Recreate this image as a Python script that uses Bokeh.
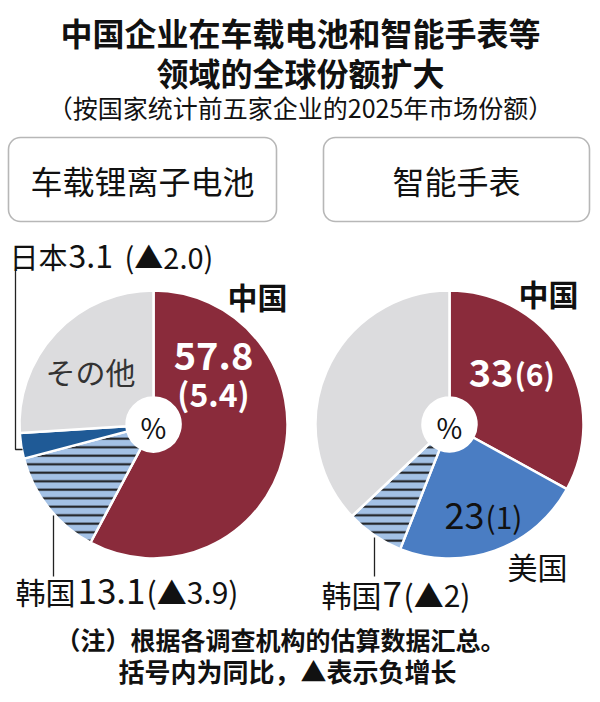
import numpy as np
from bokeh.plotting import figure
from bokeh.models import Range1d, ColumnDataSource, BoxAnnotation
from bokeh.core.properties import value
from bokeh.embed import file_html
from bokeh.resources import INLINE

# ---------------- data ----------------
title_lines = ["中国企业在车载电池和智能手表等", "领域的全球份额扩大"]
subtitle = "（按国家统计前五家企业的2025年市场份额）"
panel_titles = ["车载锂离子电池", "智能手表"]

battery_countries = ["中国", "韩国", "日本", "その他"]
battery_share = [57.8, 13.1, 3.1, 26.0]
battery_change = ["5.4", "▲3.9", "▲2.0", ""]

watch_countries = ["中国", "美国", "韩国", "其他"]
watch_share = [33, 23, 7, 37]
watch_change = ["6", "1", "▲2", ""]

notes = ["（注）根据各调查机构的估算数据汇总。", "括号内为同比，▲表示负增长"]

# ---------------- style ----------------
CJK = "Noto Sans CJK SC"
JP = "Noto Sans CJK JP"
RED = "#8a2b3b"
BLUE = "#4a7dc3"
LIGHT = "#a3c1e5"
DARK = "#1f5a96"
GRAY = "#dcdcde"

W, H = 600, 702
R, HOLE = 134, 27

p = figure(width=W, height=H, x_range=Range1d(0, W), y_range=Range1d(H, 0),
           output_backend="svg", toolbar_location=None, min_border=0,
           x_axis_location=None, y_axis_location=None)
p.grid.visible = False
p.outline_line_color = None
p.background_fill_color = "white"
p.border_fill_color = "white"


def txt(x, y, s, size, bold=False, color="#111111", align="center", font=CJK):
    p.text(x=[x], y=[y], text=[s], text_font=value(font),
           text_font_size=value(f"{size}px"),
           text_font_style="bold" if bold else "normal",
           text_color=color, text_align=align, text_baseline="middle")


def pie(cx, cy, shares, colors, hatches):
    frac = np.array(shares, dtype=float) / sum(shares)
    cum = np.concatenate([[0.0], np.cumsum(frac)])
    start = np.pi / 2 - 2 * np.pi * cum[:-1]
    end = np.pi / 2 - 2 * np.pi * cum[1:]
    n = len(shares)
    src = ColumnDataSource(dict(x=[cx] * n, y=[cy] * n, start=start, end=end,
                                color=colors, hatch=hatches))
    p.annular_wedge(x="x", y="y", inner_radius=HOLE, outer_radius=R,
                    start_angle="start", end_angle="end", direction="clock",
                    fill_color="color", line_color="white", line_width=2.5,
                    hatch_pattern="hatch", hatch_color="#151515",
                    hatch_weight=2, hatch_scale=8.5, source=src)


# ---------------- titles ----------------
txt(300, 31, title_lines[0], 32, bold=True)
txt(300, 71, title_lines[1], 32, bold=True)
txt(300, 106, subtitle, 25)

# panel boxes
for l, r in [(8, 276), (323, 589)]:
    p.add_layout(BoxAnnotation(left=l, right=r, top=137, bottom=221,
                               fill_color=None, line_color="#111111",
                               line_width=1.6, border_radius=12))
txt(142, 179, panel_titles[0], 32)
txt(456, 179, panel_titles[1], 32)

# ---------------- pies ----------------
pie(153, 424, battery_share, [RED, LIGHT, DARK, GRAY], [" ", "-", " ", " "])
pie(449, 424, watch_share, [RED, BLUE, LIGHT, GRAY], [" ", " ", "-", " "])

txt(153, 426, "%", 28)
txt(449, 426, "%", 28)

# leader lines
p.line(x=[15, 15, 22], y=[268, 449, 449], line_color="#222222", line_width=1.3)
p.line(x=[53, 53], y=[515, 576], line_color="#222222", line_width=1.3)
p.line(x=[374, 374], y=[537, 576], line_color="#222222", line_width=1.3)

# ---------------- battery labels ----------------
txt(257, 295, battery_countries[0], 30, bold=True)
txt(213, 355, f"{battery_share[0]}", 38, bold=True, color="white")
txt(213, 392, f"({battery_change[0]})", 32, bold=True, color="white")
txt(90, 370, battery_countries[3], 30, color="#333333", font=JP)

txt(9, 255, battery_countries[2], 29, align="left")
txt(68, 255, f"{battery_share[2]}", 32, align="left")
txt(124, 255, f"({battery_change[2]})", 29, align="left")

txt(15, 590, battery_countries[1], 30, align="left")
txt(77, 590, f"{battery_share[1]}", 35, align="left")
txt(146, 590, f"({battery_change[1]})", 30, align="left")

# ---------------- watch labels ----------------
txt(548, 292, watch_countries[0], 30, bold=True)
txt(513, 372, f"{watch_share[0]}", 38, bold=True, color="white", align="right")
txt(514, 372, f"({watch_change[0]})", 30, bold=True, color="white", align="left")

txt(484, 515, f"{watch_share[1]}", 36, align="right")
txt(485, 515, f"({watch_change[1]})", 30, align="left")
txt(537, 565, watch_countries[1], 30)

txt(321, 593, watch_countries[2], 30, align="left")
txt(382, 593, f"{watch_share[2]}", 35, align="left")
txt(403, 593, f"({watch_change[2]})", 30, align="left")

# ---------------- notes ----------------
txt(280, 638, notes[0], 25, bold=True)
txt(287, 670, notes[1], 26, bold=True)

open("out.html", "w").write(file_html(p, INLINE))
